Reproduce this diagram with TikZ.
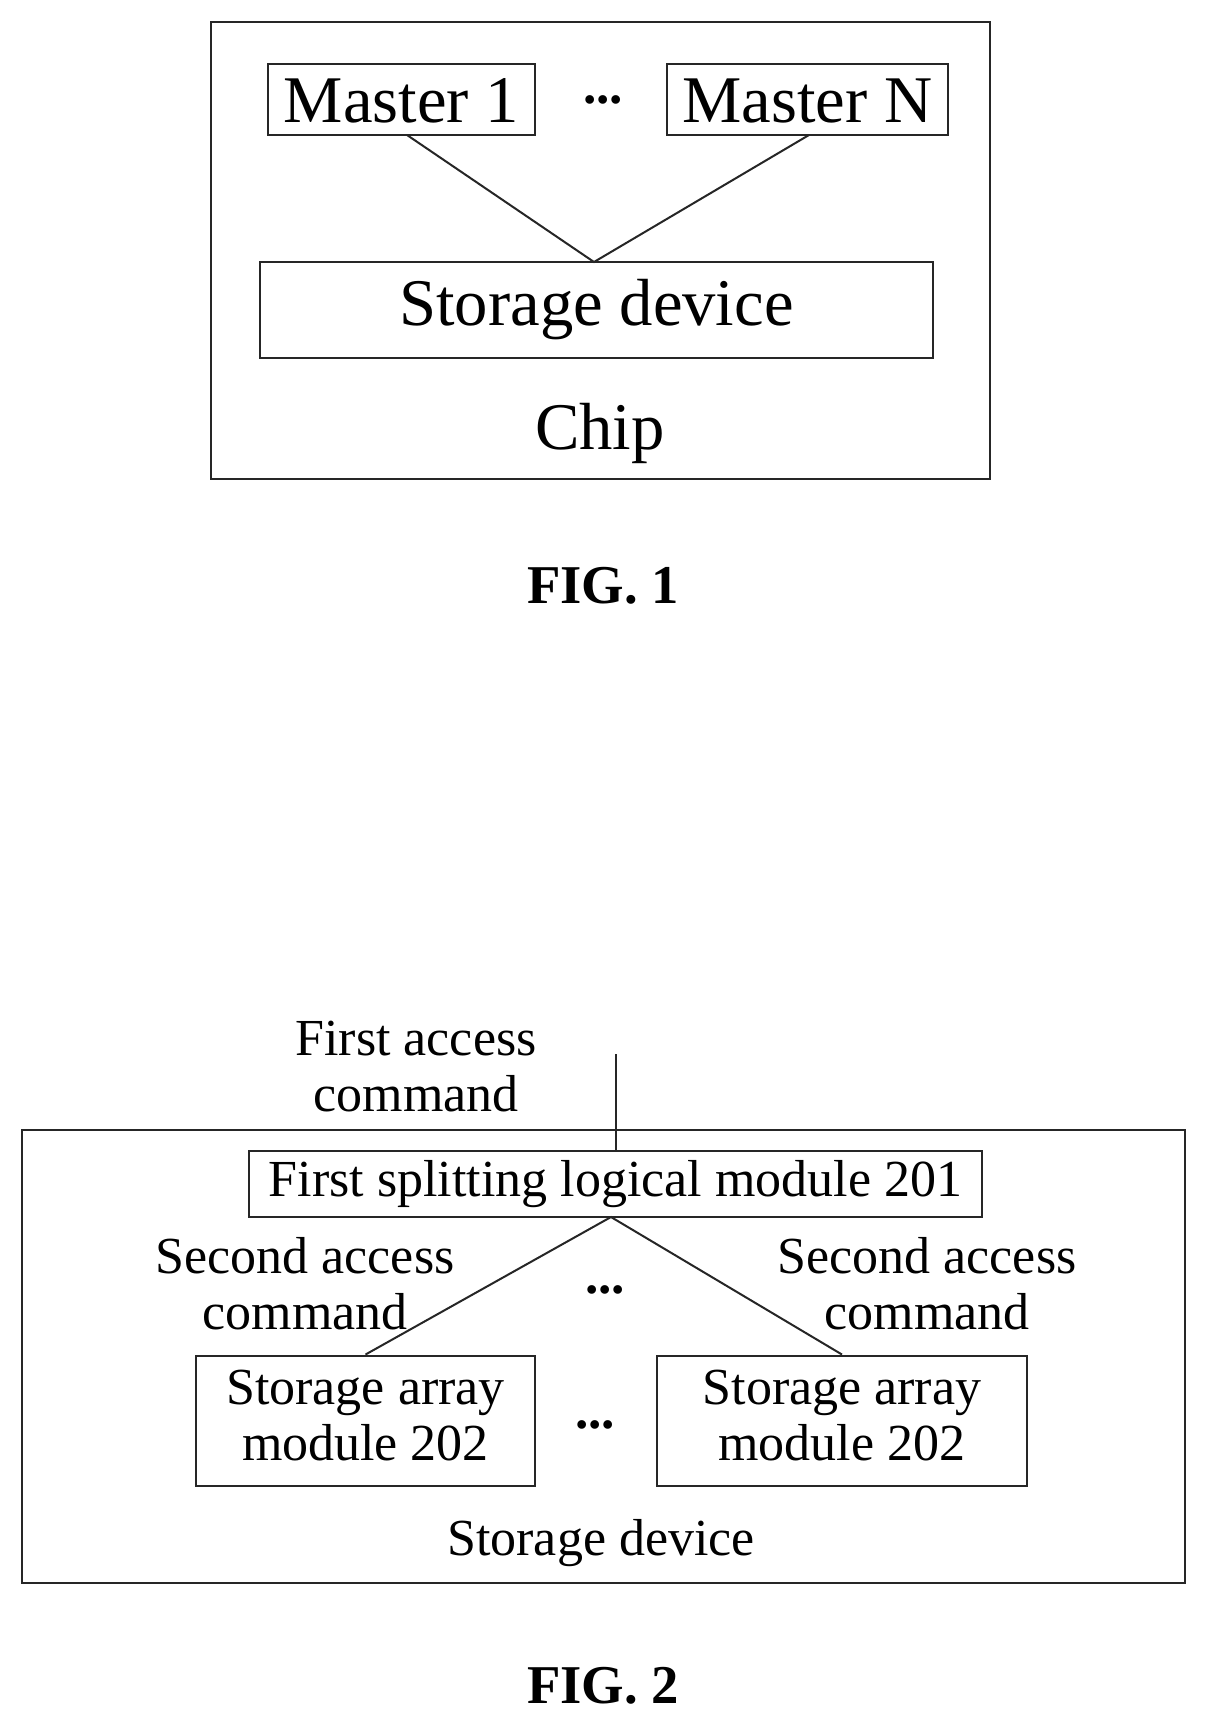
\documentclass[tikz,border=0pt]{standalone}
\usepackage{fontspec}
\setmainfont{Liberation Serif}
\begin{document}
\begin{tikzpicture}[x=0.75pt,y=-0.75pt,
  box/.style={draw=black!85,line width=2.2pt},
  ln/.style={draw=black!85,line width=1.5pt},
  big/.style={font=\fontsize{50}{54}\selectfont},
  med/.style={font=\fontsize{39}{42}\selectfont,align=center},
  dots/.style={font=\fontsize{40}{44}\selectfont\bfseries},
  fig/.style={font=\fontsize{41}{44}\selectfont\bfseries}]
\useasboundingbox (0,0) rectangle (1211,1731);
% FIG 1
\draw[box] (211,22) rectangle (990,479);
\node[box,big,minimum width=267*0.75pt,minimum height=71*0.75pt,inner sep=0,text depth=0pt,text height=35pt] (m1) at (401.5,99.5) {Master 1};
\node[box,big,minimum width=281*0.75pt,minimum height=71*0.75pt,inner sep=0,text depth=0pt,text height=35pt] (mn) at (807.5,99.5) {Master N};
\node[dots] (d1) at (603,100) {...};
\node[box,big,minimum width=673*0.75pt,minimum height=96*0.75pt,inner sep=0] (sd) at (596.5,310) {\raisebox{-6pt}{Storage device}};
\coordinate (sdt) at (594,262);
\draw[ln] (407,135) -- (sdt) -- (809,135);
\node[big] (chip) at (600,433) {Chip};
\node[fig] (f1) at (603,586) {FIG. 1};
% FIG 2
\draw[box] (22,1130) rectangle (1185,1583);
\node[med] (fac) at (416,1067) {First access\\command};
\node[box,med,minimum width=733*0.75pt,minimum height=66*0.75pt,inner sep=0] (fs) at (615.5,1184) {\raisebox{-4pt}{First splitting logical module 201}};
\coordinate (top) at (616,1054);
\draw[ln] (top) -- (fs.north -| top);
\node[box,med,minimum width=339*0.75pt,minimum height=130*0.75pt,inner sep=0] (sa1) at (365.5,1421) {\raisebox{-9pt}{\begin{tabular}{@{}c@{}}Storage array\\module 202\end{tabular}}};
\node[box,med,minimum width=370*0.75pt,minimum height=130*0.75pt,inner sep=0] (sa2) at (842,1421) {\raisebox{-9pt}{\begin{tabular}{@{}c@{}}Storage array\\module 202\end{tabular}}};
\coordinate (fsb) at (611,1217);
\draw[ln] (sa1.north) -- (fsb) -- (sa2.north);
\node[med] (sac1) at (305,1284) {Second access\\command};
\node[med] (sac2) at (927,1284) {Second access\\command};
\node[dots] (d2) at (605,1290) {...};
\node[dots] (d3) at (595,1425) {...};
\node[med] (sdl) at (601,1543) {Storage device};
\node[fig] (f2) at (603,1686) {FIG. 2};
\end{tikzpicture}
\end{document}
